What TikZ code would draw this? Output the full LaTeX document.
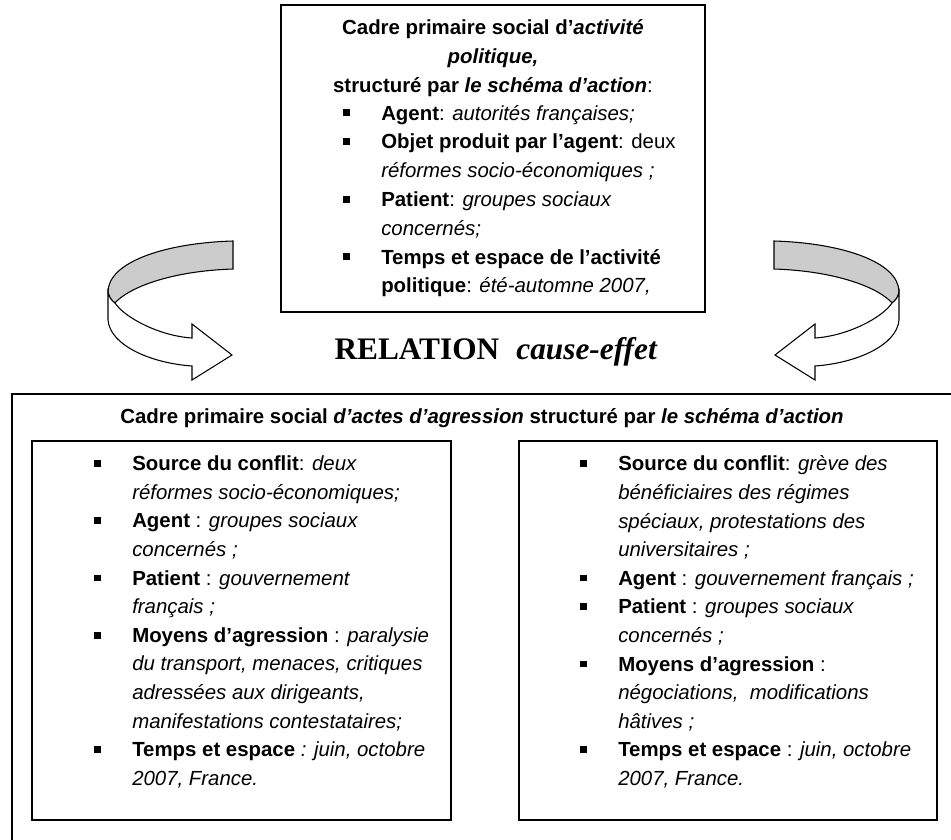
\documentclass[tikz,border=0pt]{standalone}
\usepackage{fontspec}
\setmainfont{Liberation Sans}
\newfontfamily\serifrel{Liberation Serif}
\newcommand\sq{\rule[2.9pt]{5pt}{5pt}}
\newcommand\itm{\makebox[28.5pt][l]{\sq}}
\newcommand\cnt{\hspace*{28.5pt}}
\tikzset{
  cadre/.style={draw,line width=1.2pt,inner sep=0pt},
  liste/.style={align=left,inner sep=0pt,anchor=west,font=\fontsize{15.3}{21.45}\selectfont},
  titre/.style={align=center,inner sep=0pt,font=\fontsize{15.3}{21.6}\selectfont},
  ribbon/.pic={
    \filldraw[fill=gray!40,line width=0.8pt] (233,241) .. controls (165,243) and (108,262) .. (108,292)
      .. controls (109,297) and (111,300) .. (115,303)
      .. controls (128,288) and (170,271) .. (233,269) -- cycle;
    \filldraw[fill=white,line width=0.8pt] (108,292) -- (108,320) .. controls (110,345) and (150,363) .. (192,366)
      -- (192,380) -- (232,355) -- (192,324) -- (192,338)
      .. controls (160,336) and (125,318) .. (115,303)
      .. controls (111,300) and (109,297) .. (108,292) -- cycle;
  }
}
\begin{document}
\begin{tikzpicture}[x=0.75pt,y=-0.75pt]
\useasboundingbox (0,0) rectangle (951,840);
\clip (0,0) rectangle (951,840);
% cadre du haut
\node[cadre,minimum width=318pt,minimum height=230.25pt] (haut) at (493,158.5) {};
\node[titre] (titrehaut) at (493,58) {\textbf{Cadre primaire social d’\textit{activité}}\\
  \textbf{\textit{politique,}}\\
  \textbf{structuré par \textit{le schéma d’action}}:};
\node[liste,font=\fontsize{15.3}{21.6}\selectfont] (listehaut) at (343,201) {\itm\textbf{Agent}: \textit{autorités françaises;}\\
  \itm\textbf{Objet produit par l’agent}: deux\\
  \cnt\textit{réformes socio-économiques ;}\\
  \itm\textbf{Patient}: \textit{groupes sociaux}\\
  \cnt\textit{concernés;}\\
  \itm\textbf{Temps et espace de l’activité}\\
  \cnt\textbf{politique}: \textit{été-automne 2007,}};
% fleches
\pic at (0,0) {ribbon};
\pic[xscale=-1] at (1007,0) {ribbon};
\node[inner sep=0pt,font=\serifrel\fontsize{23.5}{28}\selectfont\bfseries] (relation) at (496,352) {RELATION\hspace{12.75pt}\textit{cause-effet}};
% cadre du bas
\node[cadre,minimum width=718.5pt,minimum height=349.5pt] (bas) at (491,627) {};
\node[titre] (titrebas) at (482,418) {\textbf{Cadre primaire social \textit{d’actes d’agression} structuré par \textit{le schéma d’action}}};
\node[cadre,minimum width=314.25pt,minimum height=284.25pt] (gauche) at (241.5,630.5) {};
\node[cadre,minimum width=313.5pt,minimum height=284.25pt] (droite) at (728,630.5) {};
\node[liste] (listeg) at (94,622) {\itm\textbf{Source du conflit}: \textit{deux}\\
  \cnt\textit{réformes socio-économiques;}\\
  \itm\textbf{Agent} : \textit{groupes sociaux}\\
  \cnt\textit{concernés ;}\\
  \itm\textbf{Patient} : \textit{gouvernement}\\
  \cnt\textit{français ;}\\
  \itm\textbf{Moyens d’agression} : \textit{paralysie}\\
  \cnt\textit{du transport, menaces, critiques}\\
  \cnt\textit{adressées aux dirigeants,}\\
  \cnt\textit{manifestations contestataires;}\\
  \itm\textbf{Temps et espace} \textit{: juin, octobre}\\
  \cnt\textit{2007, France.}};
\node[liste] (listed) at (580,622) {\itm\textbf{Source du conflit}: \textit{grève des}\\
  \cnt\textit{bénéficiaires des régimes}\\
  \cnt\textit{spéciaux, protestations des}\\
  \cnt\textit{universitaires ;}\\
  \itm\textbf{Agent} : \textit{gouvernement français ;}\\
  \itm\textbf{Patient} : \textit{groupes sociaux}\\
  \cnt\textit{concernés ;}\\
  \itm\textbf{Moyens d’agression} :\\
  \cnt\textit{négociations,\ \ modifications}\\
  \cnt\textit{hâtives ;}\\
  \itm\textbf{Temps et espace} : \textit{juin, octobre}\\
  \cnt\textit{2007, France.}};
\end{tikzpicture}
\end{document}
